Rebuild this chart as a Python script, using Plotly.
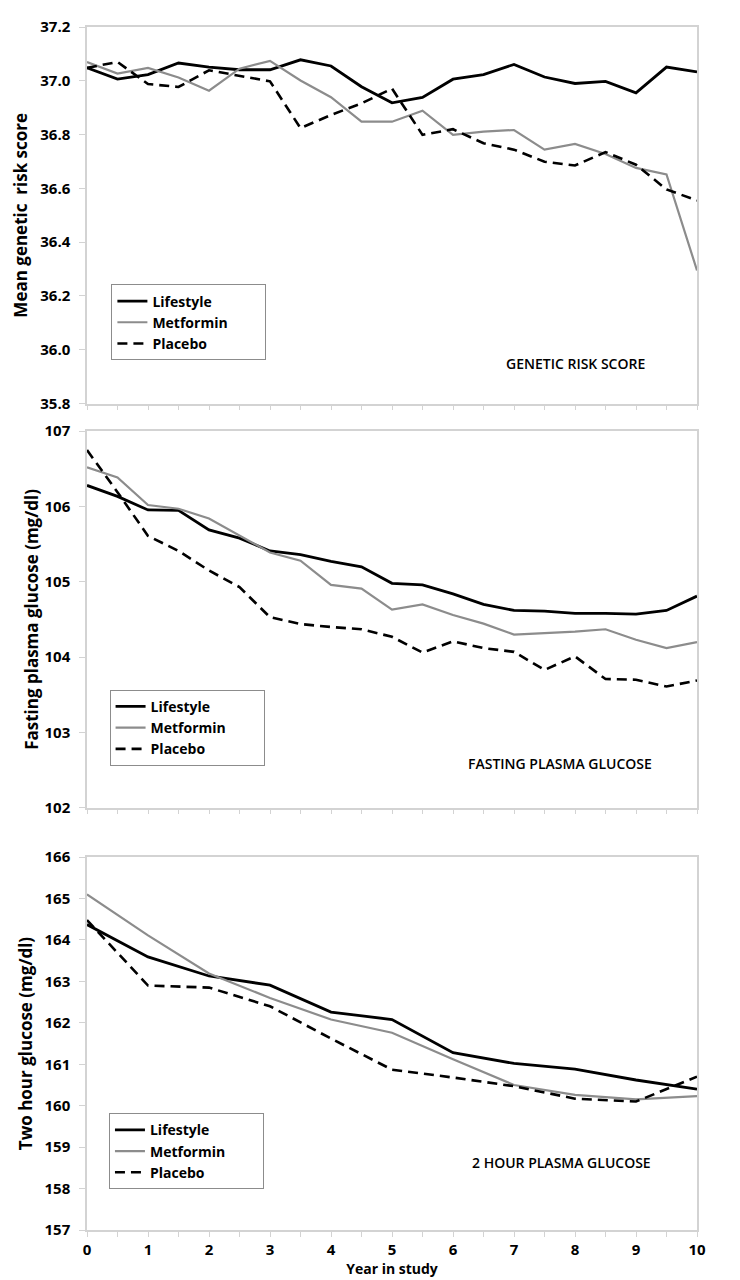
import plotly.graph_objects as go
from plotly.subplots import make_subplots

# years for the half-yearly panels and the yearly 2h glucose panel
years = [0, 0.5, 1, 1.5, 2, 2.5, 3, 3.5, 4, 4.5, 5, 5.5, 6, 6.5, 7, 7.5, 8, 8.5, 9, 9.5, 10]
years_2h = [0, 1, 2, 3, 4, 5, 6, 7, 8, 9, 10]

grs_lifestyle = [37.048, 37.006, 37.023, 37.066, 37.051, 37.041, 37.041, 37.078, 37.055, 36.978, 36.918,
                 36.938, 37.006, 37.023, 37.061, 37.014, 36.990, 36.998, 36.955, 37.051, 37.033]
grs_metformin = [37.070, 37.027, 37.048, 37.012, 36.963, 37.045, 37.074, 37.001, 36.939, 36.848, 36.848,
                 36.889, 36.799, 36.811, 36.817, 36.744, 36.765, 36.728, 36.676, 36.652, 36.295]
grs_placebo = [37.048, 37.070, 36.988, 36.977, 37.039, 37.018, 36.998, 36.824, 36.873, 36.916, 36.971,
               36.799, 36.820, 36.768, 36.744, 36.699, 36.685, 36.735, 36.688, 36.596, 36.555]

fpg_lifestyle = [106.28, 106.135, 105.955, 105.95, 105.69, 105.58, 105.41, 105.36, 105.27, 105.20, 104.98,
                 104.96, 104.84, 104.70, 104.62, 104.61, 104.58, 104.58, 104.57, 104.62, 104.81]
fpg_metformin = [106.52, 106.385, 106.02, 105.97, 105.84, 105.62, 105.39, 105.28, 104.96, 104.91, 104.63,
                 104.70, 104.56, 104.445, 104.30, 104.32, 104.34, 104.37, 104.23, 104.12, 104.20]
fpg_placebo = [106.75, 106.19, 105.61, 105.41, 105.15, 104.93, 104.53, 104.44, 104.40, 104.37, 104.27,
               104.06, 104.21, 104.12, 104.07, 103.83, 104.01, 103.71, 103.70, 103.61, 103.69]

ogtt_lifestyle = [164.37, 163.59, 163.13, 162.91, 162.26, 162.08, 161.28, 161.02, 160.88, 160.62, 160.40]
ogtt_metformin = [165.10, 164.11, 163.19, 162.60, 162.08, 161.76, 161.12, 160.50, 160.26, 160.15, 160.23]
ogtt_placebo = [164.48, 162.90, 162.85, 162.40, 161.62, 160.87, 160.68, 160.47, 160.17, 160.10, 160.70]

panels = [
    (years, [grs_lifestyle, grs_metformin, grs_placebo], 'legend'),
    (years, [fpg_lifestyle, fpg_metformin, fpg_placebo], 'legend2'),
    (years_2h, [ogtt_lifestyle, ogtt_metformin, ogtt_placebo], 'legend3'),
]
names = ['Lifestyle', 'Metformin', 'Placebo']
styles = [dict(color='black', width=2.8),
          dict(color='#8c8c8c', width=2.2),
          dict(color='black', width=2.6, dash='10px,6px')]

FONT = 'Open Sans'
AXIS_GRAY = '#d3d3d3'
PAD = '\u00a0' * 9  # widen the legend box like the original

fig = make_subplots(rows=3, cols=1)

for i, (xs, series, leg) in enumerate(panels):
    for name, ys, st in zip(names, series, styles):
        fig.add_trace(go.Scatter(x=xs, y=ys, mode='lines', name=name + PAD, line=st,
                                 legend=leg, showlegend=True), row=i + 1, col=1)

fig.update_xaxes(range=[0, 10], dtick=1, ticks='outside', ticklen=5, tickcolor=AXIS_GRAY,
                 minor=dict(dtick=0.5, ticks='outside', ticklen=5, tickcolor=AXIS_GRAY),
                 showline=True, mirror=True, linecolor=AXIS_GRAY, linewidth=1.5,
                 showgrid=False, zeroline=False,
                 tickfont=dict(family=FONT, size=15, color='black', weight='bold'))
fig.update_yaxes(ticks='outside', ticklen=6, tickcolor=AXIS_GRAY,
                 showline=True, mirror=True, linecolor=AXIS_GRAY, linewidth=1.5,
                 showgrid=False, zeroline=False, ticklabelstandoff=6,
                 tickfont=dict(family=FONT, size=15, color='black', weight='bold'),
                 title_font=dict(family=FONT, size=17, color='black', weight='bold'))

fig.update_xaxes(showticklabels=False, row=1, col=1)
fig.update_xaxes(showticklabels=False, row=2, col=1)
fig.update_xaxes(title=dict(text='Year in study', standoff=4,
                            font=dict(family=FONT, size=14, color='black', weight='bold')), row=3, col=1)

fig.update_yaxes(range=[35.8, 37.2], dtick=0.2, tickformat='.1f',
                 title=dict(text='Mean genetic  risk score', standoff=8), row=1, col=1)
fig.update_yaxes(range=[102, 107], dtick=1,
                 title=dict(text='Fasting plasma glucose (mg/dl)', standoff=2), row=2, col=1)
fig.update_yaxes(range=[157, 166], dtick=1,
                 title=dict(text='Two hour glucose (mg/dl)', standoff=8), row=3, col=1)

leg_style = dict(bgcolor='white', bordercolor='#8c8c8c', borderwidth=1,
                 font=dict(family=FONT, size=14, color='black', weight='bold'),
                 xanchor='left', yanchor='top', tracegroupgap=0, itemwidth=30)

labels = [('GENETIC RISK SCORE', 8.0, 35.95, 'x', 'y'),
          ('FASTING PLASMA GLUCOSE', 7.75, 102.59, 'x2', 'y2'),
          ('2 HOUR PLASMA GLUCOSE', 7.78, 158.64, 'x3', 'y3')]
for text, ax, ay, xr, yr in labels:
    fig.add_annotation(text=text, x=ax, y=ay, xref=xr, yref=yr, showarrow=False,
                       font=dict(family=FONT, size=14, color='black', weight=600))

fig.update_layout(
    width=740, height=1280,
    margin=dict(l=79, r=51, t=8, b=58),
    plot_bgcolor='white', paper_bgcolor='white',
    xaxis=dict(domain=[0, 1]), xaxis2=dict(domain=[0, 1]), xaxis3=dict(domain=[0, 1]),
    yaxis=dict(domain=[0.687, 1.0]),
    yaxis2=dict(domain=[0.351, 0.664]),
    yaxis3=dict(domain=[0.0, 0.310]),
    legend=dict(x=0.04, y=0.786, **leg_style),
    legend2=dict(x=0.037, y=0.449, **leg_style),
    legend3=dict(x=0.036, y=0.097, **leg_style),
)

fig.write_html("out.html")
